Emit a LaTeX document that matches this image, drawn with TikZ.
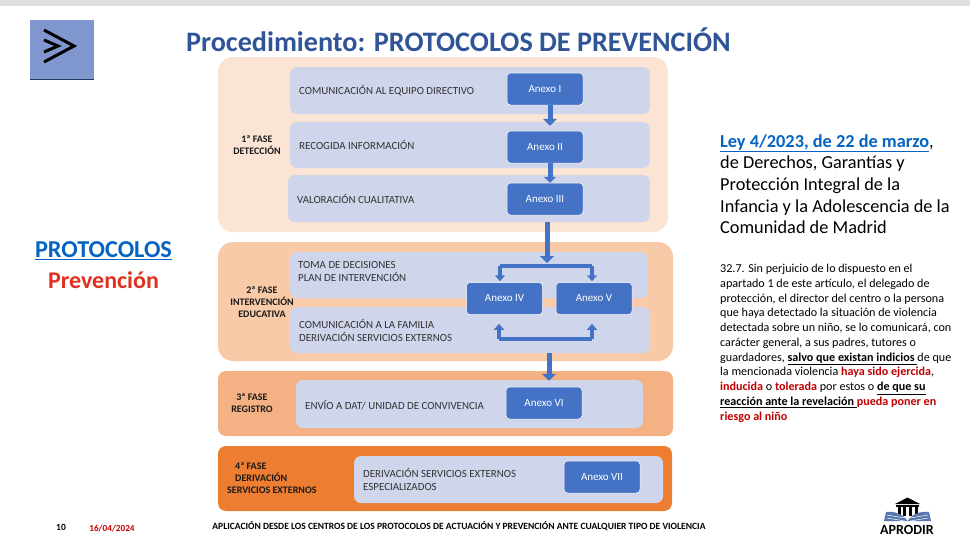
\documentclass[tikz,border=0pt]{standalone}
\usepackage{fontspec}
\setmainfont{Carlito}
\usetikzlibrary{arrows.meta,calc}
\definecolor{faseA}{HTML}{FCE4D4}
\definecolor{faseB}{HTML}{F8CAA8}
\definecolor{faseC}{HTML}{F4B183}
\definecolor{faseD}{HTML}{ED7D31}
\definecolor{paso}{HTML}{CFD5EA}
\definecolor{anexo}{HTML}{4472C4}
\definecolor{cuadro}{HTML}{7F96CF}
\definecolor{titulo}{HTML}{2F5597}
\definecolor{enlace}{HTML}{0563C1}
\definecolor{rojo}{HTML}{C00000}
\definecolor{rojob}{HTML}{E03020}
\tikzset{
  pasobox/.style={fill=paso,rounded corners=7pt},
  anexobox/.style={fill=anexo,draw=white,line width=0.5pt,rounded corners=3.5pt,minimum width=76pt,minimum height=32pt,inner sep=0pt,text=white,font=\fontsize{11}{13}\selectfont},
  pasotext/.style={anchor=west,align=left,inner sep=0pt,text=black!80,font=\fontsize{10.9}{13.5}\selectfont},
  fasetext/.style={align=center,inner sep=0pt,text=black!90,font=\bfseries\fontsize{10}{12}\selectfont},
  flecha/.style={draw=anexo,line width=5pt,-{Triangle[length=7pt,width=14pt]}},
  flechita/.style={draw=anexo,line width=4pt,-{Triangle[length=6pt,width=10pt]}},
  linea/.style={draw=anexo,line width=4pt},
}
\begin{document}
\begin{tikzpicture}[x=1pt,y=-1pt]
    \useasboundingbox (0,0) rectangle (970,547);
    \fill[black!12] (0,0) rectangle (970,6);
    % square with the chevrons
    \fill[cuadro] (30,20) rectangle (94,80);
    \fill[black!50!anexo] (30,78.5) rectangle (94,80);
    \draw[line width=3pt] (44,30) -- (74,46) -- (44,62);
    \draw[line width=3pt] (44,40) -- (58,46) -- (44,52);
    \node (titulo) at (458.5,40) {\textcolor{titulo}{\bfseries\fontsize{28.2}{32}\selectfont Procedimiento: PROTOCOLOS DE PREVENCIÓN}};
    \node[text=enlace,font=\bfseries\fontsize{24.3}{28}\selectfont] (proto) at (103.5,251) {\underline{PROTOCOLOS}};
    \node[text=rojob,font=\bfseries\fontsize{24}{28}\selectfont] (prev) at (103.5,280) {Prevención};
    % the four phases
    \fill[faseA,rounded corners=15pt] (218,57) rectangle (668,232);
    \fill[faseB,rounded corners=15pt] (218,242) rectangle (673,361);
    \fill[faseC,rounded corners=8pt] (218,371) rectangle (673,436);
    \fill[faseD,rounded corners=8pt] (218,446) rectangle (672,511);
    \node[fasetext] (fase1) at (257,145.5) {1ª FASE\\DETECCIÓN};
    \node[fasetext] (fase2) at (262,302) {2ª FASE\\INTERVENCIÓN\\EDUCATIVA};
    \node[fasetext] (fase3) at (252,403.5) {3ª FASE\\REGISTRO};
    \node[fasetext,align=left,anchor=west] (fase4) at (235,478) {4ª FASE\\DERIVACIÓN\\\hspace*{-8pt}SERVICIOS EXTERNOS};
    % rows
    \foreach \name/\xa/\ya/\xb/\yb in {p1/290/67/650/114,p2/290/122/650/168,p3/288/175/650/222,
        p4/290/252/648/298,p5/290/307/650/353,p6/296/380/643/428,p7/354/456/663/503}
      \node[pasobox,minimum width={\xb pt-\xa pt},minimum height={\yb pt-\ya pt},inner sep=0pt] (\name) at ({(\xa+\xb)/2},{(\ya+\yb)/2}) {};
    \node[pasotext] (t1) at (299,91) {COMUNICACIÓN AL EQUIPO DIRECTIVO};
    \node[pasotext] (t2) at (299,145) {RECOGIDA INFORMACIÓN};
    \node[pasotext] (t3) at (297,199) {VALORACIÓN CUALITATIVA};
    \node[pasotext] (t4) at (298,271.5) {TOMA DE DECISIONES\\PLAN DE INTERVENCIÓN};
    \node[pasotext] (t5) at (299,330.5) {COMUNICACIÓN A LA FAMILIA\\DERIVACIÓN SERVICIOS EXTERNOS};
    \node[pasotext] (t6) at (305,405) {ENVÍO A DAT/ UNIDAD DE CONVIVENCIA};
    \node[pasotext] (t7) at (363,479.5) {DERIVACIÓN SERVICIOS EXTERNOS\\ESPECIALIZADOS};
    % annexes
    \node[anexobox] (a1) at (545,89) {Anexo I};
    \node[anexobox] (a2) at (545,147) {Anexo II};
    \node[anexobox] (a3) at (545,199) {Anexo III};
    \node[anexobox] (a4) at (504.5,298.5) {Anexo IV};
    \node[anexobox] (a5) at (594,298.5) {Anexo V};
    \node[anexobox] (a6) at (544,403) {Anexo VI};
    \node[anexobox] (a7) at (602,477) {Anexo VII};
    % arrows
    \coordinate (cruce) at (547,263);
    \coordinate (ramaa) at (500,266);
    \coordinate (ramab) at (592,266);
    \coordinate (subea) at (499,339);
    \coordinate (subeb) at (592,339);
    \draw[flecha] ([xshift=5pt]a1.south) -- ([xshift=5pt,yshift=5pt]a2.north);
    \draw[flecha,-{Triangle[length=6pt,width=12pt]}] ([xshift=5pt]a2.south) -- ([xshift=5pt]a3.north);
    \draw[flecha] (p3.south -| cruce) -- (cruce);
    \draw[linea] (ramaa) -- (ramab);
    \draw[flechita] (ramaa) -- ([xshift=-4.5pt,yshift=1pt]a4.north);
    \draw[flechita] (ramab) -- ([xshift=-2pt,yshift=1pt]a5.north);
    \draw[linea] (subea) -- (subeb);
    \draw[flechita] (subea) -- ([xshift=-5.5pt,yshift=-9pt]a4.south);
    \draw[flechita] (subeb) -- ([xshift=-2pt,yshift=-9pt]a5.south);
    \draw[flecha] ([xshift=5pt]a6.north |- p5.south) -- ([xshift=5pt,yshift=6pt]a6.north);
    % right column
    \node[anchor=north west,align=left,inner sep=0pt,font=\fontsize{18.3}{21.7}\selectfont] (ley) at (720,134) {\textcolor{enlace}{\bfseries\underline{Ley 4/2023, de 22 de marzo}},\\de Derechos, Garantías y\\Protección Integral de la\\Infancia y la Adolescencia de la\\Comunidad de Madrid};
    \node[anchor=north west,align=left,inner sep=0pt,font=\fontsize{12.1}{14.75}\selectfont] (art) at (720,264) {32.7. Sin perjuicio de lo dispuesto en el\\apartado 1 de este artículo, el delegado de\\protección, el director del centro o la persona\\que haya detectado la situación de violencia\\detectada sobre un niño, se lo comunicará, con\\carácter general, a sus padres, tutores o\\guardadores, \textbf{\underline{salvo que existan indicios }}de que\\la mencionada violencia \textcolor{rojo}{\textbf{haya sido ejercida}},\\\textcolor{rojo}{\textbf{inducida}} o \textcolor{rojo}{\textbf{tolerada}} por estos o \textbf{\underline{de que su}}\\\textbf{\underline{reacción ante la revelación }}\textcolor{rojo}{\textbf{pueda poner en}}\\\textcolor{rojo}{\textbf{riesgo al niño}}};
    % footer
    \node[font=\bfseries\fontsize{9.5}{10}\selectfont] (num) at (61,527) {10};
    \node[text=rojo,font=\bfseries\fontsize{9.2}{10}\selectfont] (fecha) at (112,528) {16/04/2024};
    \node[font=\bfseries\fontsize{9.55}{11}\selectfont] (pie) at (459,526) {APLICACIÓN DESDE LOS CENTROS DE LOS PROTOCOLOS DE ACTUACIÓN Y PREVENCIÓN ANTE CUALQUIER TIPO DE VIOLENCIA};
    % logo
    \fill[black] (895,504) -- (907.5,497.5) -- (920,504) -- cycle;
    \fill[black] (896,504.5) rectangle (919,506.5);
    \foreach \x in {898,903,909,915}
      \fill[black] (\x,507) rectangle (\x+2.5,516);
    \fill[titulo!80!white] (886,512) .. controls (895,511) and (903,514) .. (907.5,521) .. controls (912,514) and (920,511) .. (929,512) -- (931,521) -- (884,521) -- cycle;
    \foreach \y in {515,518}
      \draw[white,line width=0.5pt] (887,\y) -- (905,\y+3) (928,\y) -- (910,\y+3);
    \node[font=\bfseries\fontsize{14}{15}\selectfont,text=black] (aprodir) at (907,530) {APRODIR};
\end{tikzpicture}
\end{document}
